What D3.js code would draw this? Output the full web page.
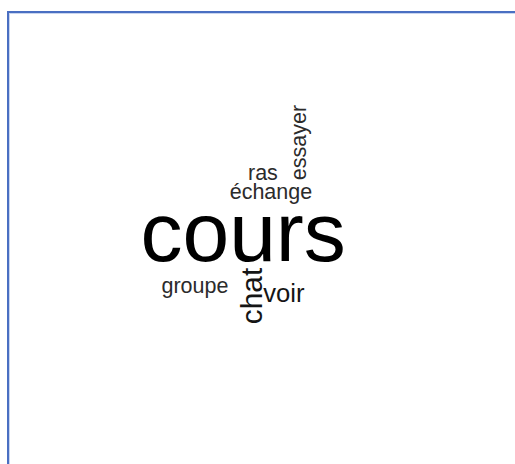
<!DOCTYPE html>
<html>
<head>
<meta charset="utf-8">
<script src="https://cdn.jsdelivr.net/npm/d3@7"></script>
<style>
	body { margin: 0; background: #fff; }
	text { font-family: "Liberation Sans", Arial, sans-serif; }
</style>
</head>
<body>
<div id="chart"></div>
<script>
// word cloud data: word, frequency, rotation, layout position (normalised -1..1)
var words = ['cours', 'chat', 'voir', 'groupe', 'échange', 'ras', 'essayer'];
var freqs = [18, 5, 4, 3, 3, 3, 3];
var rotated = [false, true, false, false, false, false, true];
var posX = [-0.008, 0.072, 0.165, -0.212, 0.110, 0.076, 0.258];
var posY = [0.172, 0.335, 0.363, 0.321, -0.123, -0.212, -0.389];

var W = 515, H = 464;

var svg = d3.select('#chart').append('svg').attr('width', W).attr('height', H);

// plot frame (only top and left edges fit inside the window)
svg.append('line').attr('x1', 7).attr('x2', W).attr('y1', 12).attr('y2', 12)
	.attr('stroke', '#4a6fc2').attr('stroke-width', 2);
svg.append('line').attr('x1', 8).attr('x2', 8).attr('y1', 11).attr('y2', H)
	.attr('stroke', '#4a6fc2').attr('stroke-width', 2);
svg.append('line').attr('x1', 9).attr('x2', W).attr('y1', 13.5).attr('y2', 13.5)
	.attr('stroke', '#c9d5ef').attr('stroke-width', 1);
svg.append('line').attr('x1', 9.5).attr('x2', 9.5).attr('y1', 13).attr('y2', H)
	.attr('stroke', '#c9d5ef').attr('stroke-width', 1);

var x = d3.scaleLinear().domain([-1, 1]).range([9, 481]);
var y = d3.scaleLinear().domain([-1, 1]).range([13, 437]);
var size = d3.scaleLinear().domain([0, 18]).range([9, 84]);
var colour = d3.scaleThreshold().domain([4, 10]).range(['#2b2b2b', '#151515', '#000']);

var data = words.map(function(w, i) {
	return {text: w, freq: freqs[i], rot: rotated[i], x: posX[i], y: posY[i]};
});

svg.append('g').selectAll('text').data(data).enter().append('text')
	.attr('text-anchor', 'middle')
	.attr('transform', function(d) {
		return 'translate(' + x(d.x) + ',' + y(d.y) + ')' + (d.rot ? ' rotate(-90)' : '');
	})
	.attr('font-size', function(d) { return size(d.freq); })
	.attr('fill', function(d) { return colour(d.freq); })
	.text(function(d) { return d.text; });
</script>
</body>
</html>
